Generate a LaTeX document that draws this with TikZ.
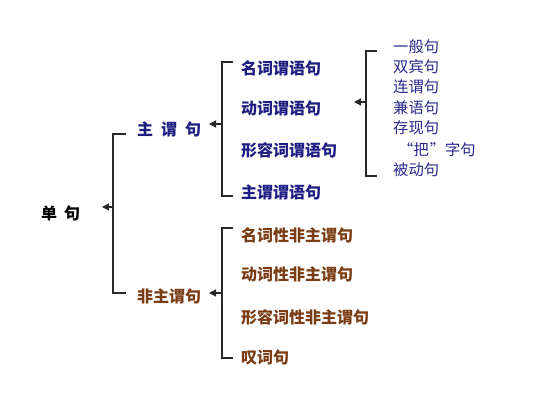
\documentclass[tikz,border=0pt]{standalone}
\usepackage{fontspec}
\newfontfamily\cjk{Noto Sans CJK SC}
\usetikzlibrary{arrows.meta}
\definecolor{navy}{RGB}{30,30,130}
\definecolor{navyl}{RGB}{40,40,140}
\definecolor{brn}{RGB}{122,60,20}
\definecolor{ln}{RGB}{40,40,40}
\begin{document}
\begin{tikzpicture}[x=1pt,y=-1pt,
  every node/.style={inner sep=0pt,anchor=west},
  bold/.style={font=\cjk\bfseries\fontsize{16}{19}\selectfont},
  plain/.style={font=\cjk\fontsize{15.3}{18}\selectfont, text=navyl},
  blue/.style={bold,text=navy},
  brown/.style={bold,text=brn},
  br/.style={draw=ln,line width=1.2pt},
  arr/.style={draw=ln,line width=1.2pt,-{Triangle[length=7pt,width=7pt]}}]
\useasboundingbox[fill=white] (0,0) rectangle (535,418);
% root and level 1
\node[bold] (dj) at (41,213) {单\hspace{7pt}句};
\node[blue] (zw) at (137,129) {主\hspace{8pt}谓\hspace{8pt}句};
\node[brown] (fzw) at (137,296) {非主谓句};
% level 2 blue
\node[blue] (a1) at (241,68) {名词谓语句};
\node[blue] (a2) at (241,108) {动词谓语句};
\node[blue] (a3) at (241,150) {形容词谓语句};
\node[blue] (a4) at (241,192) {主谓谓语句};
% level 2 brown
\node[brown] (c1) at (241,235) {名词性非主谓句};
\node[brown] (c2) at (241,274) {动词性非主谓句};
\node[brown] (c3) at (241,317) {形容词性非主谓句};
\node[brown] (c4) at (241,357) {叹词句};
% list
\node[plain] (d1) at (393,47) {一般句};
\node[plain] (d2) at (393,67) {双宾句};
\node[plain] (d3) at (393,87) {连谓句};
\node[plain] (d4) at (393,108) {兼语句};
\node[plain] (d5) at (393,128) {存现句};
\node[plain] (d6) at (398,150) {“把\hspace{1pt}”字句};
\node[plain] (d7) at (393,170) {被动句};
% bracket 1
\coordinate (b1t) at (126,134);
\coordinate (b1b) at (126,293);
\coordinate (b1m) at (113,207);
\coordinate (b1a) at (102,207);
\draw[br] (b1t) -- ++(-13,0) |- (b1b);
\draw[arr] (b1m) -- (b1a);
% bracket 2
\coordinate (b2t) at (233,62);
\coordinate (b2b) at (233,196);
\coordinate (b2m) at (222,124);
\coordinate (b2a) at (209,124);
\draw[br] (b2t) -- ++(-11,0) |- (b2b);
\draw[arr] (b2m) -- (b2a);
% bracket 3
\coordinate (b3t) at (233,228);
\coordinate (b3b) at (233,358);
\coordinate (b3m) at (222,293);
\coordinate (b3a) at (209,293);
\draw[br] (b3t) -- ++(-11,0) |- (b3b);
\draw[arr] (b3m) -- (b3a);
% bracket 4
\coordinate (b4t) at (377,51);
\coordinate (b4b) at (377,176);
\coordinate (b4m) at (366,102);
\coordinate (b4a) at (354,102);
\draw[br] (b4t) -- ++(-11,0) |- (b4b);
\draw[arr] (b4m) -- (b4a);
\end{tikzpicture}
\end{document}
